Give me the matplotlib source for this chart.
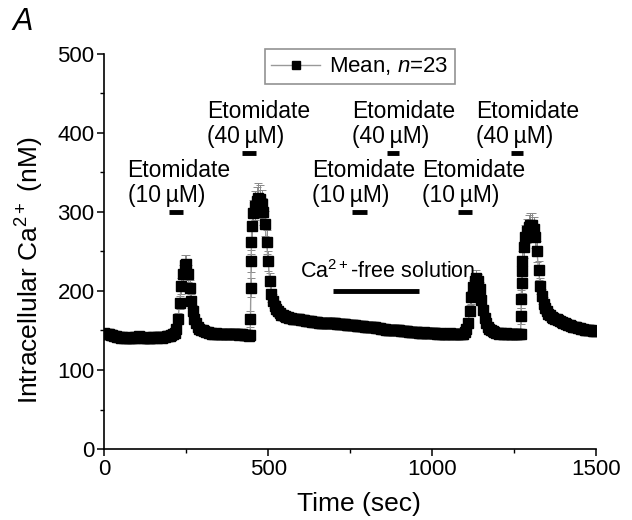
import numpy as np
import matplotlib
matplotlib.use("Agg")
import matplotlib.pyplot as plt
from matplotlib.lines import Line2D

plt.rcParams['font.family'] = ['Liberation Sans', 'DejaVu Sans']
plt.rcParams['mathtext.fontset'] = 'custom'
plt.rcParams['mathtext.rm'] = 'Liberation Sans'
plt.rcParams['mathtext.it'] = 'Liberation Sans:italic'

# ---- data: segments (start time, step, mean values, sem values) ----
seg1_start, seg1_step = 0, 5
seg1_mean = [147,146,146,145,144,144,143,143,142,142,
             141,142,141,141,142,141,141,140,141,142,
             142,143,142,141,141,142,141,140,141,141,
             142,142,141,142,142,141,142,142,143,143,
             143,144,145,147,152,165,185,206,222,233,
             234,222,204,187,174,165,159,155,152,151,
             150,149,148,148,147,147,146,146,147,146,
             146,145,146,146,145,146,146,145,145,146,
             145,145,144,145,145,144,144,144,143,144]
seg1_sem = [5]*40 + [5,5,5,5,6,7,8,10,11,12,
                     12,11,10,9,8,7,6,6,5,5] + [5]*30

seg2_start, seg2_step = 446, 1
seg2_mean = [164,204,238,262]
seg2_sem = [10,12,14,15]

seg3_start, seg3_step = 450, 5
seg3_mean = [282,298,308,314,318,316,310,300,285,262,
             238,212,196,187,181,177,174,172,170,169,
             168,167,167,166,166,165,165,164,164,164,
             163,163,163,162,162,162,162,161,161,161,
             161,160,160,160,160,160,159,159,159,159,
             159,159,158,158,158,158,158,158,157,157,
             157,157,157,157,156,156,156,156,156,155,
             155,155,155,154,154,154,153,153,153,152,
             152,152,151,151,151,151,150,150,150,150,
             150,149,149,149,149,149,148,148,148,148,
             148,148,147,147,147,148,147,147,147,147,
             147,147,147,146,146,147,146,146,146,146,
             146,147,146,146,145,146,146,146,145,146,
             148,152,160,175,192,205,213,217,213,203,
             189,176,166,159,155,152,150,149,148,147,
             147,146,147,146,146,147,146,146,145,146,
             146,145,146,145,145]
seg3_sem = ([16,17,18,18,18,18,18,17,16,15,
             13,11,10,9,8,8,7,7,7,6] + [6]*30 + [5]*80 +
            [5,5,6,7,8,9,9,9,9,8,
             7,6,6,5,5,5,5,5,5,5] + [5]*15)

seg4_start, seg4_step = 1271, 1
seg4_mean = [168,190,210,225]
seg4_sem = [10,11,12,13]

seg5_start, seg5_step = 1275, 5
seg5_mean = [238,256,268,276,281,283,283,278,268,250,
             226,206,193,184,178,174,171,169,167,166,
             165,164,163,162,161,160,159,158,157,157,
             156,155,155,154,153,153,152,152,151,151,
             150,150,150,149,149,149]
seg5_sem = ([13,14,15,15,15,15,15,15,14,13,
             12,10,9,8,7,7,6,6,6,6] + [5]*26)

segments = [(seg1_start, seg1_step, seg1_mean, seg1_sem),
            (seg2_start, seg2_step, seg2_mean, seg2_sem),
            (seg3_start, seg3_step, seg3_mean, seg3_sem),
            (seg4_start, seg4_step, seg4_mean, seg4_sem),
            (seg5_start, seg5_step, seg5_mean, seg5_sem)]
time = np.concatenate([s + st*np.arange(len(m)) for s, st, m, e in segments])
mean = np.concatenate([np.array(m, float) for s, st, m, e in segments])
sem = np.concatenate([np.array(e, float) for s, st, m, e in segments])

# drug application bars
bar10_start = [197, 757, 1080]
bar10_end = [240, 800, 1121]
bar10_y = 300
bar40_start = [419, 862, 1241]
bar40_end = [462, 899, 1278]
bar40_y = 375
cafree_start, cafree_end, cafree_y = 699, 960, 200

label10_x = [71, 634, 970]
label40_x = [314, 757, 1133]
label10_text = "Etomidate\n(10\u2009\u00b5M)"
label40_text = "Etomidate\n(40\u2009\u00b5M)"

# ---- figure ----
fig = plt.figure(figsize=(6.32, 5.20), dpi=100)
ax = fig.add_axes([0.165, 0.1365, 0.778, 0.76])

ax.errorbar(time, mean, yerr=sem, fmt='none', ecolor='#8a8a8a',
            elinewidth=0.7, capsize=2.6, capthick=0.7, zorder=2)
ax.plot(time, mean, '-', color='#999999', lw=1.0, marker='s',
        ms=7.6, mfc='black', mec='black', zorder=3)

for x0, x1 in zip(bar10_start, bar10_end):
    ax.plot([x0, x1], [bar10_y, bar10_y], color='black', lw=3.5, solid_capstyle='butt')
for x0, x1 in zip(bar40_start, bar40_end):
    ax.plot([x0, x1], [bar40_y, bar40_y], color='black', lw=3.5, solid_capstyle='butt')
ax.plot([cafree_start, cafree_end], [cafree_y, cafree_y], color='black', lw=3.5,
        solid_capstyle='butt')

for x in label10_x:
    ax.text(x, 306, label10_text, fontsize=16.5, ha='left', va='bottom', linespacing=1.1)
for x in label40_x:
    ax.text(x, 381, label40_text, fontsize=16.5, ha='left', va='bottom', linespacing=1.1)
ax.text(597, 224, "Ca$^{2+}$-free solution", fontsize=15.5, ha='left', va='center')

ax.set_xlim(0, 1500)
ax.set_ylim(0, 500)
ax.set_xticks([0, 500, 1000, 1500])
ax.set_xticks([250, 750, 1250], minor=True)
ax.set_yticks([0, 100, 200, 300, 400, 500])
ax.set_yticks([50, 150, 250, 350, 450], minor=True)
for s in ['top', 'right']:
    ax.spines[s].set_visible(False)
for s in ['left', 'bottom']:
    ax.spines[s].set_linewidth(1.2)
ax.tick_params(which='major', direction='out', length=5, width=1.1, labelsize=16, pad=2)
ax.tick_params(which='minor', direction='out', length=3, width=1.0)

ax.set_xlabel("Time (sec)", fontsize=19)
ax.set_ylabel("Intracellular Ca$^{2+}$ (nM)", fontsize=19)
ax.xaxis.set_label_coords(0.518, -0.108)
ax.yaxis.set_label_coords(-0.118, 0.453)

handle = Line2D([], [], color='#999999', lw=1.0, marker='s', ms=6,
                mfc='black', mec='black')
leg = ax.legend([handle], ["Mean, $n$=23"], loc='upper center',
                bbox_to_anchor=(0.52, 1.013), fontsize=16, frameon=True,
                fancybox=False, edgecolor='#777777', handlelength=2.2,
                handletextpad=0.4, borderpad=0.3, borderaxespad=0)
leg.get_frame().set_linewidth(1.2)

fig.text(0.02, 0.958, "A", fontsize=22, fontstyle='italic', ha='left', va='center')

fig.savefig("out.png", dpi=100)
